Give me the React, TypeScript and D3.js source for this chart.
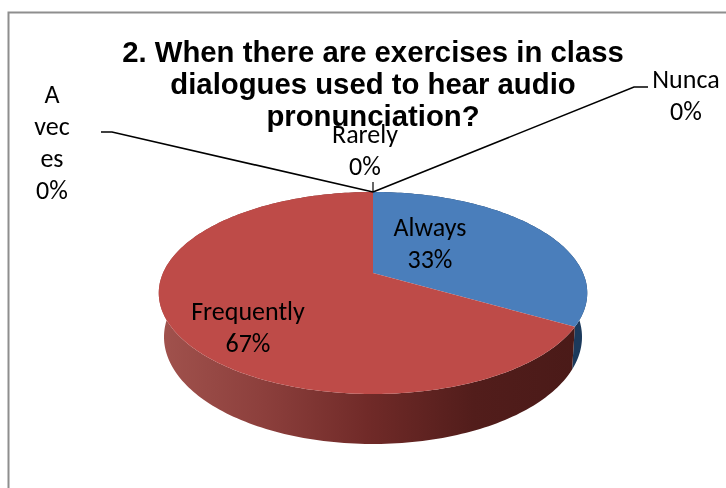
import React from "react";
import * as d3 from "d3";

const categories = ["Always", "Frequently", "Rarely", "A veces", "Nunca"];
const values = [33.33, 66.67, 0, 0, 0];
const percentLabels = ["33%", "67%", "0%", "0%", "0%"];
const topColors = ["#4A7EBB", "#BE4B48", "#BE4B48", "#98B855", "#7D5FA0"];
const titleLines = ["2. When there are exercises in class", "dialogues used to hear audio", "pronunciation?"];

const W = 726, H = 488;
const cx = 373, apexY = 273, persp = -0.198, yGain = 43, xGain = 210;

const project = (theta: number): [number, number] => {
  const u = Math.sin(theta), v = -Math.cos(theta);
  const d = 1 + persp * v;
  return [cx + (xGain * u) / d, (apexY + yGain * v) / d];
};
const projectBottom = (theta: number): [number, number] => {
  const [x, y] = project(theta);
  const phi = Math.atan2((x - cx) / 214.5, -(y - 293) / 101);
  const phi2 = phi - 0.035 * Math.sin(phi);
  return [cx + 209 * Math.sin(phi2), 337 - 107 * Math.cos(phi2)];
};
const sample = (a: number, b: number) => {
  const n = Math.max(2, Math.ceil(Math.abs(b - a) / 0.02));
  return d3.range(n + 1).map((i) => a + ((b - a) * i) / n);
};
const line = d3.line<[number, number]>();

const pie = d3.pie<number>().sort(null).value((d) => d);
const slices = pie(values);

const labelStyle = { fontFamily: "Carlito, Lato, 'Open Sans', sans-serif", fontSize: 26, fill: "#000" };

export default function App() {
  const topPoint = project(0);
  return (
    <svg width={W} height={H} viewBox={`0 0 ${W} ${H}`} style={{ position: "absolute", left: 0, top: 0, background: "#fff", filter: "blur(0.4px)" }}>
      <defs>
        <linearGradient id="redSide" gradientUnits="userSpaceOnUse" x1={160} x2={578} y1={0} y2={0}>
          <stop offset="0" stopColor="#A1524D" />
          <stop offset="0.25" stopColor="#8C3F3C" />
          <stop offset="0.5" stopColor="#702A28" />
          <stop offset="0.75" stopColor="#521D1B" />
          <stop offset="1" stopColor="#4A1A18" />
        </linearGradient>
      </defs>
      <path d={`M8.5 488V12.5H726`} fill="none" stroke="#8E8E8E" strokeWidth={2} />

      {slices.filter((s) => s.value > 0).map((s) => {
        const th = sample(s.startAngle, s.endAngle);
        const pts = [...th.map(project), ...th.slice().reverse().map(projectBottom)];
        return <path key={"side" + s.index} d={line(pts)! + "Z"} fill={s.index === 0 ? "#1C3A5C" : "url(#redSide)"} />;
      })}
      {slices.filter((s) => s.value > 0).map((s) => {
        const th = sample(s.startAngle, s.endAngle);
        const pts: [number, number][] = [[cx, apexY], ...th.map(project)];
        return <path key={"top" + s.index} d={line(pts)! + "Z"} fill={topColors[s.index]} />;
      })}

      <path d={line([[101, 132], [112, 132], topPoint])!} fill="none" stroke="#000" strokeWidth={1.6} />
      <path d={line([[648, 87], [634, 87], topPoint])!} fill="none" stroke="#000" strokeWidth={1.6} />
      <path d={line([[cx, 182], topPoint])!} fill="none" stroke="#000" strokeWidth={1.2} />

      <g fontFamily="'Liberation Sans', Arial, sans-serif" fontWeight="bold" fontSize={29.3} textAnchor="middle" fill="#000">
        {titleLines.map((t, i) => (
          <text key={t} x={373} y={62 + i * 32}>{t}</text>
        ))}
      </g>

      <g style={labelStyle as any} textAnchor="middle">
        <text x={430} y={236}>{categories[0]}</text>
        <text x={430} y={268}>{percentLabels[0]}</text>
        <text x={248} y={320}>{categories[1]}</text>
        <text x={248} y={352}>{percentLabels[1]}</text>
        <text x={365} y={143}>{categories[2]}</text>
        <text x={365} y={175}>{percentLabels[2]}</text>
        {["A", "vec", "es", percentLabels[3]].map((t, i) => (
          <text key={i} x={52} y={103 + i * 32}>{t}</text>
        ))}
        <text x={686} y={88}>{categories[4]}</text>
        <text x={686} y={120}>{percentLabels[4]}</text>
      </g>
    </svg>
  );
}
